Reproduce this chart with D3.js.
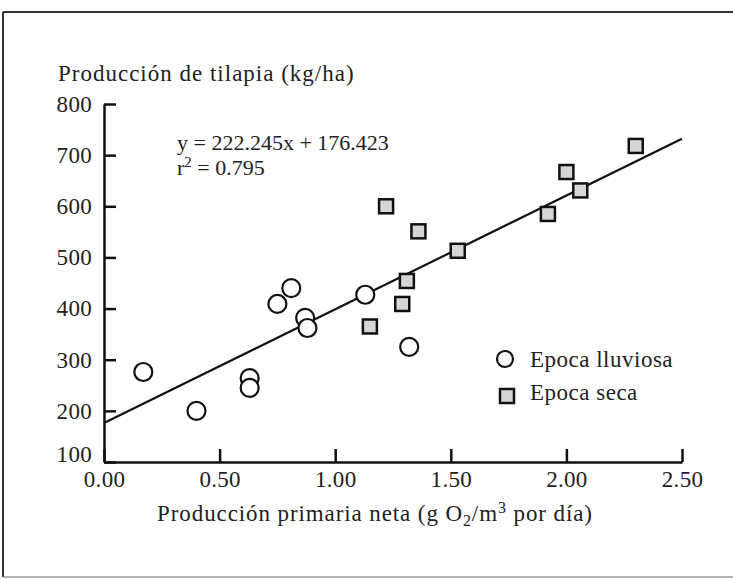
<!DOCTYPE html>
<html>
<head>
<meta charset="utf-8">
<script src="https://cdn.jsdelivr.net/npm/d3@7"></script>
<style>
  html, body { margin: 0; padding: 0; background: #ffffff; }
  svg { display: block; }
  svg text { font-family: "Liberation Serif", "Times New Roman", Times, "DejaVu Serif", serif; fill: #222; }
</style>
</head>
<body>
<svg id="chart" width="733" height="579"></svg>
<script>
// ---- Data ----
const lluviosaX = [0.17, 0.40, 0.63, 0.63, 0.75, 0.81, 0.87, 0.88, 1.13, 1.32];
const lluviosaY = [276, 200, 264, 245, 409, 440, 382, 362, 427, 325];
const secaX = [1.22, 1.36, 1.53, 1.31, 1.29, 1.15, 1.92, 2.00, 2.06, 2.30];
const secaY = [600, 551, 513, 454, 409, 365, 585, 667, 631, 718];
const xTicks = [0, 0.5, 1.0, 1.5, 2.0, 2.5];
const yTicks = [100, 200, 300, 400, 500, 600, 700, 800];
const regSlope = [222.245];
const regIntercept = [176.423];
const regRange = [0, 2.5];
const legendLabels = ["Epoca lluviosa", "Epoca seca"];

// ---- Layout ----
const svg = d3.select("#chart");
const mLeft = 104, mRight = 682, mTop = 104, mBottom = 462;
const x = d3.scaleLinear().domain([0, 2.5]).range([mLeft, mRight]);
const y = d3.scaleLinear().domain([100, 800]).range([mBottom, mTop]);
const serif = "'Liberation Serif', 'Times New Roman', Times, 'DejaVu Serif', serif";

// frame
svg.append("line").attr("x1", 3).attr("x2", 733).attr("y1", 12).attr("y2", 12)
  .attr("stroke", "#333").attr("stroke-width", 2);
svg.append("line").attr("x1", 3).attr("x2", 3).attr("y1", 12).attr("y2", 577)
  .attr("stroke", "#333").attr("stroke-width", 2);
svg.append("line").attr("x1", 3).attr("x2", 733).attr("y1", 577).attr("y2", 577)
  .attr("stroke", "#999").attr("stroke-width", 1.5);

// axes
const yAxis = d3.axisLeft(y).tickValues(yTicks).tickSizeInner(-12).tickSizeOuter(0)
  .tickPadding(12).tickFormat(d3.format("d"));
const gy = svg.append("g").attr("transform", `translate(${mLeft},0)`).call(yAxis);
const xAxis = d3.axisBottom(x).tickValues(xTicks).tickSizeInner(-13).tickSizeOuter(0)
  .tickPadding(12).tickFormat(d3.format(".2f"));
const gx = svg.append("g").attr("transform", `translate(0,${mBottom})`).call(xAxis);

[gx, gy].forEach(g => {
  g.attr("font-family", serif);
  g.select(".domain").attr("stroke", "#111").attr("stroke-width", 2.5);
  g.selectAll(".tick line").attr("stroke", "#111").attr("stroke-width", 2.5);
  g.selectAll(".tick text").attr("font-size", 23).attr("letter-spacing", 0.3)
    .attr("font-family", serif).attr("fill", "#222");
});
gy.selectAll(".tick text").filter(d => d === 100).attr("dy", "-0.02em");
gx.selectAll(".tick text").attr("dy", "0.55em");

// axis titles
svg.append("text").attr("x", 58).attr("y", 81).attr("font-size", 23)
  .attr("letter-spacing", 1).attr("font-family", serif)
  .text("Producción de tilapia (kg/ha)");
const xt = svg.append("text").attr("x", 375).attr("y", 521).attr("font-size", 23)
  .attr("letter-spacing", 0.9).attr("font-family", serif).attr("text-anchor", "middle");
xt.append("tspan").text("Producción primaria neta (g O");
xt.append("tspan").attr("font-size", 16).attr("dy", 5).text("2");
xt.append("tspan").attr("dy", -5).text("/m");
xt.append("tspan").attr("font-size", 16).attr("dy", -8).text("3");
xt.append("tspan").attr("dy", 8).text(" por día)");

// equation
svg.append("text").attr("x", 177).attr("y", 150).attr("font-size", 22)
  .attr("font-family", serif).text(`y = ${regSlope[0]}x + ${regIntercept[0]}`);
const r2 = svg.append("text").attr("x", 177).attr("y", 175).attr("font-size", 22)
  .attr("font-family", serif);
r2.append("tspan").text("r");
r2.append("tspan").attr("font-size", 15).attr("dy", -8).text("2");
r2.append("tspan").attr("dy", 8).text(" = 0.795");

// regression line
const line = d3.line().x(d => x(d)).y(d => y(regSlope[0] * d + regIntercept[0]));
svg.append("path").datum(regRange).attr("d", line)
  .attr("fill", "none").attr("stroke", "#111").attr("stroke-width", 2.2);

// points
const lluvia = lluviosaX.map((v, i) => ({ x: v, y: lluviosaY[i] }));
const seca = secaX.map((v, i) => ({ x: v, y: secaY[i] }));
svg.append("g").selectAll("circle").data(lluvia).join("circle")
  .attr("cx", d => x(d.x)).attr("cy", d => y(d.y)).attr("r", 9)
  .attr("fill", "#fff").attr("stroke", "#111").attr("stroke-width", 2.2);
const sq = 14;
svg.append("g").selectAll("rect").data(seca).join("rect")
  .attr("x", d => x(d.x) - sq / 2).attr("y", d => y(d.y) - sq / 2)
  .attr("width", sq).attr("height", sq)
  .attr("fill", "#d6d6d6").attr("stroke", "#111").attr("stroke-width", 2.5);

// legend
const lg = svg.append("g");
lg.append("circle").attr("cx", 505).attr("cy", 359).attr("r", 8)
  .attr("fill", "#fff").attr("stroke", "#111").attr("stroke-width", 2.2);
lg.append("rect").attr("x", 500).attr("y", 389).attr("width", 14).attr("height", 14)
  .attr("fill", "#d6d6d6").attr("stroke", "#111").attr("stroke-width", 2.5);
lg.selectAll("text").data(legendLabels).join("text")
  .attr("x", 530).attr("y", (d, i) => 367 + i * 33).attr("font-size", 23)
  .attr("letter-spacing", 0.5).attr("font-family", serif).text(d => d);
</script>
</body>
</html>
